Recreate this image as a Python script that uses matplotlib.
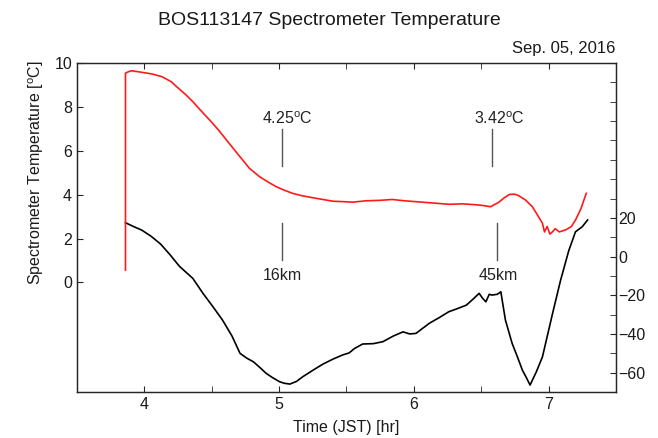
import matplotlib
matplotlib.use('Agg')
import matplotlib.pyplot as plt

plt.rcParams['font.family'] = ['Liberation Sans', 'DejaVu Sans']
plt.rcParams['mathtext.fontset'] = 'custom'
plt.rcParams['mathtext.rm'] = 'Liberation Sans'
plt.rcParams['font.size'] = 11

# spectrometer temperature (left axis, degC)
red_x = [3.86, 3.86, 3.88, 3.905, 3.98, 4.06, 4.13, 4.20, 4.24, 4.30, 4.36, 4.42,
         4.485, 4.55, 4.61, 4.67, 4.73, 4.78, 4.855, 4.92, 4.98, 5.04, 5.10, 5.17,
         5.25, 5.40, 5.55, 5.646, 5.75, 5.84, 5.93, 6.016, 6.14, 6.26, 6.36, 6.46,
         6.52, 6.57, 6.63, 6.67, 6.71, 6.75, 6.78, 6.83, 6.88, 6.92, 6.955, 6.97,
         6.99, 7.01, 7.03, 7.05, 7.08, 7.13, 7.17, 7.20, 7.24, 7.28]
red_y = [0.56, 9.54, 9.60, 9.65, 9.58, 9.50, 9.38, 9.15, 8.92, 8.60, 8.24, 7.83,
         7.40, 6.95, 6.49, 6.03, 5.58, 5.20, 4.82, 4.57, 4.36, 4.20, 4.06, 3.95,
         3.86, 3.70, 3.66, 3.72, 3.74, 3.78, 3.72, 3.68, 3.62, 3.56, 3.58, 3.54,
         3.50, 3.45, 3.65, 3.85, 4.01, 4.02, 3.95, 3.75, 3.45, 3.05, 2.69, 2.30,
         2.55, 2.20, 2.31, 2.45, 2.30, 2.40, 2.55, 2.84, 3.35, 4.06]

# outside air temperature (right axis, degC)
blk_x = [3.86, 3.92, 3.98, 4.05, 4.12, 4.19, 4.26, 4.36, 4.435, 4.51, 4.58, 4.65,
         4.71, 4.76, 4.81, 4.86, 4.905, 4.95, 5.004, 5.04, 5.08, 5.13, 5.176, 5.25,
         5.325, 5.40, 5.47, 5.52, 5.56, 5.62, 5.70, 5.77, 5.85, 5.92, 5.97, 6.016,
         6.115, 6.19, 6.26, 6.32, 6.39, 6.44, 6.485, 6.51, 6.535, 6.56, 6.58, 6.62,
         6.646, 6.68, 6.73, 6.77, 6.806, 6.835, 6.863, 6.91, 6.955, 7.03, 7.09, 7.15,
         7.20, 7.25, 7.29]
blk_y = [17.5, 15.5, 13.7, 10.5, 6.5, 1.0, -5.0, -11.3, -19.0, -26.0, -32.8, -41.0,
         -50.0, -52.5, -54.4, -57.5, -60.4, -62.5, -64.7, -65.5, -65.9, -64.5, -62.1, -58.8,
         -55.6, -53.0, -50.9, -49.8, -47.5, -45.2, -45.0, -44.0, -41.0, -38.9, -40.0, -39.7,
         -34.5, -31.5, -28.5, -27.0, -25.1, -22.0, -19.0, -21.5, -23.4, -19.5, -19.9, -19.5,
         -18.2, -32.8, -44.9, -52.0, -58.7, -62.5, -66.4, -59.5, -51.8, -29.4, -12.1, 3.0,
         12.8, 15.4, 18.9]

# annotations: x, label, text x
temp_marks = [(5.02, '4.25$^{\\rm o}$C', 4.87), (6.58, '3.42$^{\\rm o}$C', 6.448)]
alt_marks = [(5.02, '16km', 5.022), (6.62, '45km', 6.626)]

fig = plt.figure(figsize=(6.58, 4.38), dpi=100)
ax = fig.add_axes([0.117, 0.105, 0.819, 0.751])
ax2 = ax.twinx()

ax2.plot(blk_x, blk_y, color='black', lw=1.2)
ax.plot(red_x, red_y, color='#ff1a1a', lw=1.2, zorder=5)
ax.set_zorder(ax2.get_zorder() + 1)
ax.patch.set_visible(False)

for xm, txt, tx in temp_marks:
    ax.plot([xm, xm], [5.3, 7.0], color='#555555', lw=1)
    ax.text(tx, 7.22, txt, ha='left', va='baseline', fontsize=11.5, color='#222222')
for xm, txt, tx in alt_marks:
    ax.plot([xm, xm], [1.02, 2.7], color='#555555', lw=1)
    ax.text(tx, 0.1, txt, ha='center', va='baseline', fontsize=11.5, color='#222222')

ax.set_xlim(3.5, 7.5)
ax.set_ylim(-5, 10)
ax2.set_ylim(-70, 100)

ax.set_xticks([4, 5, 6, 7])
ax.set_xticks([3.5, 4.5, 5.5, 6.5, 7.5], minor=True)
ax.set_yticks([0, 2, 4, 6, 8, 10])
ax2.set_yticks([-60, -40, -20, 0, 20])
ax2.set_yticks(list(range(-70, 101, 10)), minor=True)

ax.tick_params(axis='x', which='both', direction='in', top=True, length=4, colors='#262626')
ax.tick_params(axis='y', which='both', direction='in', right=False, length=4, colors='#262626')
ax2.tick_params(axis='y', which='both', direction='in', length=4, colors='#262626')
ax.tick_params(labelsize=11.5, labelcolor='#1a1a1a')
ax2.tick_params(labelsize=11.5, labelcolor='#1a1a1a', pad=2)

for a in (ax, ax2):
    for s in a.spines.values():
        s.set_color('#262626')
        s.set_linewidth(0.9)

ax.text(-0.076, 0.667, 'Spectrometer Temperature [$^{\\rm o}$C]', transform=ax.transAxes,
        rotation=90, ha='center', va='center', fontsize=11.5, color='#1a1a1a')
ax.set_xlabel('Time (JST) [hr]', fontsize=11.5, color='#1a1a1a', labelpad=6)
fig.text(0.5, 0.953, 'BOS113147 Spectrometer Temperature', ha='center', va='center',
         fontsize=14, color='#1a1a1a')
fig.text(0.935, 0.89, 'Sep. 05, 2016', ha='right', va='center', fontsize=12, color='#1a1a1a')

fig.savefig('out.png', dpi=100)
